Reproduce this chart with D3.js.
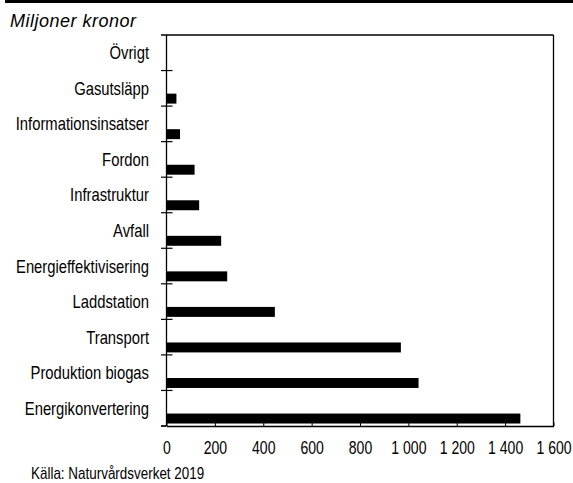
<!DOCTYPE html>
<html>
<head>
<meta charset="utf-8">
<script src="https://cdn.jsdelivr.net/npm/d3@7"></script>
<style>
  body { margin: 0; background: #fff; }
  svg { display: block; }
  .lbl { font-family: "Liberation Sans", Arial, sans-serif; }
</style>
</head>
<body>
<script>
// Data (top to bottom)
const categories = ["Övrigt", "Gasutsläpp", "Informationsinsatser", "Fordon", "Infrastruktur",
  "Avfall", "Energieffektivisering", "Laddstation", "Transport", "Produktion biogas", "Energikonvertering"];
const values = [0, 41, 56, 116, 135, 226, 251, 448, 969, 1042, 1463];
const xTicks = [0, 200, 400, 600, 800, 1000, 1200, 1400, 1600];
const unitLabel = "Miljoner kronor";
const sourceLabel = "Källa: Naturvårdsverket 2019";

const W = 573, H = 483;
const margin = { top: 35, right: 19.5, bottom: 57, left: 166.5 };
const width = W - margin.left - margin.right,
      height = H - margin.top - margin.bottom;

// no condensed font installed, so squeeze Liberation Sans horizontally
const condensed = 0.8;

const svg = d3.select("body").append("svg")
  .attr("width", W)
  .attr("height", H);

// top rule
svg.append("line")
  .attr("x1", 5).attr("x2", W).attr("y1", 1.5).attr("y2", 1.5)
  .attr("stroke", "#000").attr("stroke-width", 3);

svg.append("text")
  .attr("x", 10).attr("y", 27)
  .attr("font-family", "Liberation Sans, Arial, sans-serif")
  .attr("font-style", "italic")
  .attr("font-size", 18)
  .attr("letter-spacing", 0.5)
  .text(unitLabel);

const g = svg.append("g")
  .attr("transform", `translate(${margin.left},${margin.top})`);

const x = d3.scaleLinear().domain([0, 1600]).range([0, width]);
const y = d3.scaleBand().domain(categories).range([0, height]);
const bw = y.bandwidth();

// frame: top and right
g.append("line").attr("x1", -5.5).attr("x2", width).attr("y1", 0).attr("y2", 0)
  .attr("stroke", "#000").attr("stroke-width", 1.3);
g.append("line").attr("x1", width).attr("x2", width).attr("y1", 0).attr("y2", height)
  .attr("stroke", "#000").attr("stroke-width", 1.3);

// bars
g.selectAll("rect.bar")
  .data(values)
  .join("rect")
    .attr("class", "bar")
    .attr("x", x(0))
    .attr("y", (d, i) => y(categories[i]) + bw * 0.65)
    .attr("width", d => x(d) - x(0))
    .attr("height", bw * 0.28)
    .attr("fill", "#000");

// left axis with ticks on band boundaries
g.append("line").attr("x1", 0).attr("x2", 0).attr("y1", 0).attr("y2", height)
  .attr("stroke", "#000").attr("stroke-width", 1.3);
const boundaries = categories.map(c => y(c)).concat([height]).slice(1);
g.selectAll("line.ytick")
  .data(boundaries)
  .join("line")
    .attr("class", "ytick")
    .attr("x1", -5.5)
    .attr("x2", (d, i) => i === boundaries.length - 1 ? 0 : 6)
    .attr("y1", d => d).attr("y2", d => d)
    .attr("stroke", "#000").attr("stroke-width", 1.2);

// category labels
g.selectAll("text.cat")
  .data(categories)
  .join("text")
    .attr("class", "cat lbl")
    .attr("transform", d => `translate(-17.5,${y(d) + bw / 2 + 6.5}) scale(${condensed},1)`)
    .attr("text-anchor", "end")
    .attr("font-size", 18.5)
    .text(d => d);

// bottom axis
const xAxis = g.append("g")
  .attr("transform", `translate(0,${height})`)
  .call(d3.axisBottom(x).tickValues(xTicks).tickSizeInner(-3.5).tickSizeOuter(0)
    .tickPadding(15.5).tickFormat(d => d3.format(",")(d).replace(/,/g, " ")));
xAxis.select(".domain").attr("stroke-width", 1.3);
xAxis.selectAll(".tick line").attr("stroke-width", 1);
xAxis.selectAll("text")
  .attr("class", "lbl")
  .attr("font-size", 18)
  .attr("transform", "scale(0.78,1)")
  .attr("fill", "#000");
// extend x axis line left to the tick stub
xAxis.append("line").attr("x1", -5.5).attr("x2", 0).attr("y1", 0).attr("y2", 0)
  .attr("stroke", "#000").attr("stroke-width", 1.3);

svg.append("text")
  .attr("class", "lbl")
  .attr("transform", "translate(31,478.5) scale(0.84,1)")
  .attr("font-size", 16)
  .text(sourceLabel);
</script>
</body>
</html>
